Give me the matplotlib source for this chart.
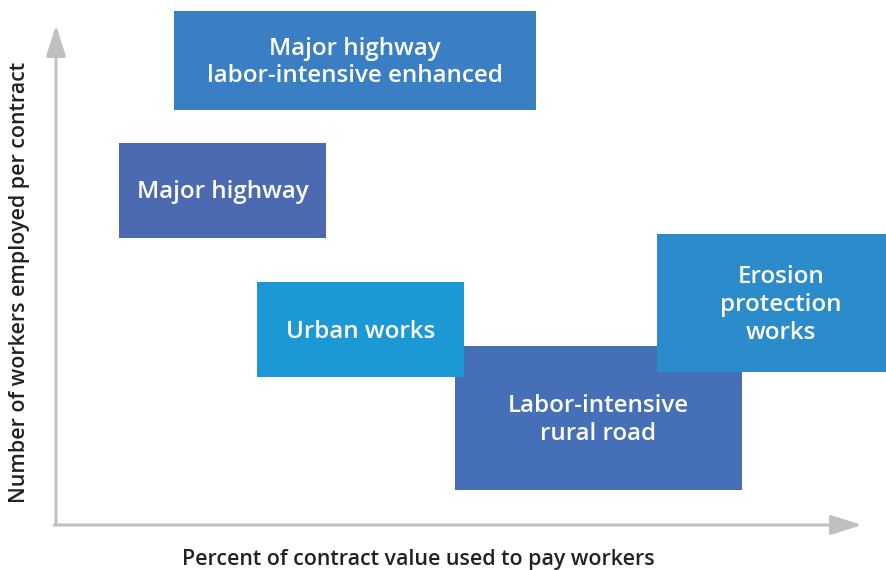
import matplotlib
matplotlib.use("Agg")
import matplotlib.pyplot as plt
from matplotlib.patches import Rectangle

# Conceptual chart: x = share of contract value paid to workers, y = workers per contract
# (arbitrary 0-100 units, axes origin at 0,0, arrow tips at 100)
labels = ["Labor-intensive\nrural road", "Major highway\nlabor-intensive enhanced",
          "Major highway", "Urban works", "Erosion\nprotection\nworks"]
x_lo = [49.5, 14.6, 7.8, 24.9, 74.6]
x_hi = [85.1, 59.6, 33.5, 50.6, 105.3]
y_lo = [7.0, 83.0, 57.4, 29.6, 30.6]
y_hi = [35.8, 102.8, 76.4, 48.6, 58.2]
colors = ["#4570b7", "#3a7fc4", "#4b6ab2", "#1c98d5", "#2b8bcb"]

plt.rcParams["font.family"] = ["Open Sans", "DejaVu Sans"]

fig = plt.figure(figsize=(8.87, 5.70), dpi=100)
ax = fig.add_axes([0, 0, 1, 1])
ax.set_xlim(-6.95, 103.1)
ax.set_ylim(-9, 105)
ax.axis("off")

AX_C = "#c0c0c0"
arrow = dict(arrowstyle="-|>,head_length=0.95,head_width=0.3", mutation_scale=20,
             color=AX_C, lw=2.2, shrinkA=0, shrinkB=0)
ax.annotate("", xy=(0, 100), xytext=(0, 0), arrowprops=arrow, zorder=1)
ax.annotate("", xy=(100, 0), xytext=(-0.2, 0), arrowprops=arrow, zorder=1)

for i, lab in enumerate(labels):
    w = x_hi[i] - x_lo[i]
    h = y_hi[i] - y_lo[i]
    ax.add_patch(Rectangle((x_lo[i], y_lo[i]), w, h, facecolor=colors[i],
                           edgecolor="none", zorder=2 + i))
    ax.text((x_lo[i] + x_hi[i]) / 2, (y_lo[i] + y_hi[i]) / 2 - 0.4, lab, color="white",
            fontsize=17.4, fontweight="semibold", ha="center", va="center",
            linespacing=1.2, zorder=10 + i)

ax.text(45, -6.9, "Percent of contract value used to pay workers", fontsize=15.4,
        fontweight="semibold", color="#222222", ha="center", va="center")
ax.text(-4.5, 48.6, "Number of workers employed per contract", fontsize=15.4,
        fontweight="semibold", color="#222222", ha="center", va="center",
        rotation=90)

fig.savefig("out.png", dpi=100)
